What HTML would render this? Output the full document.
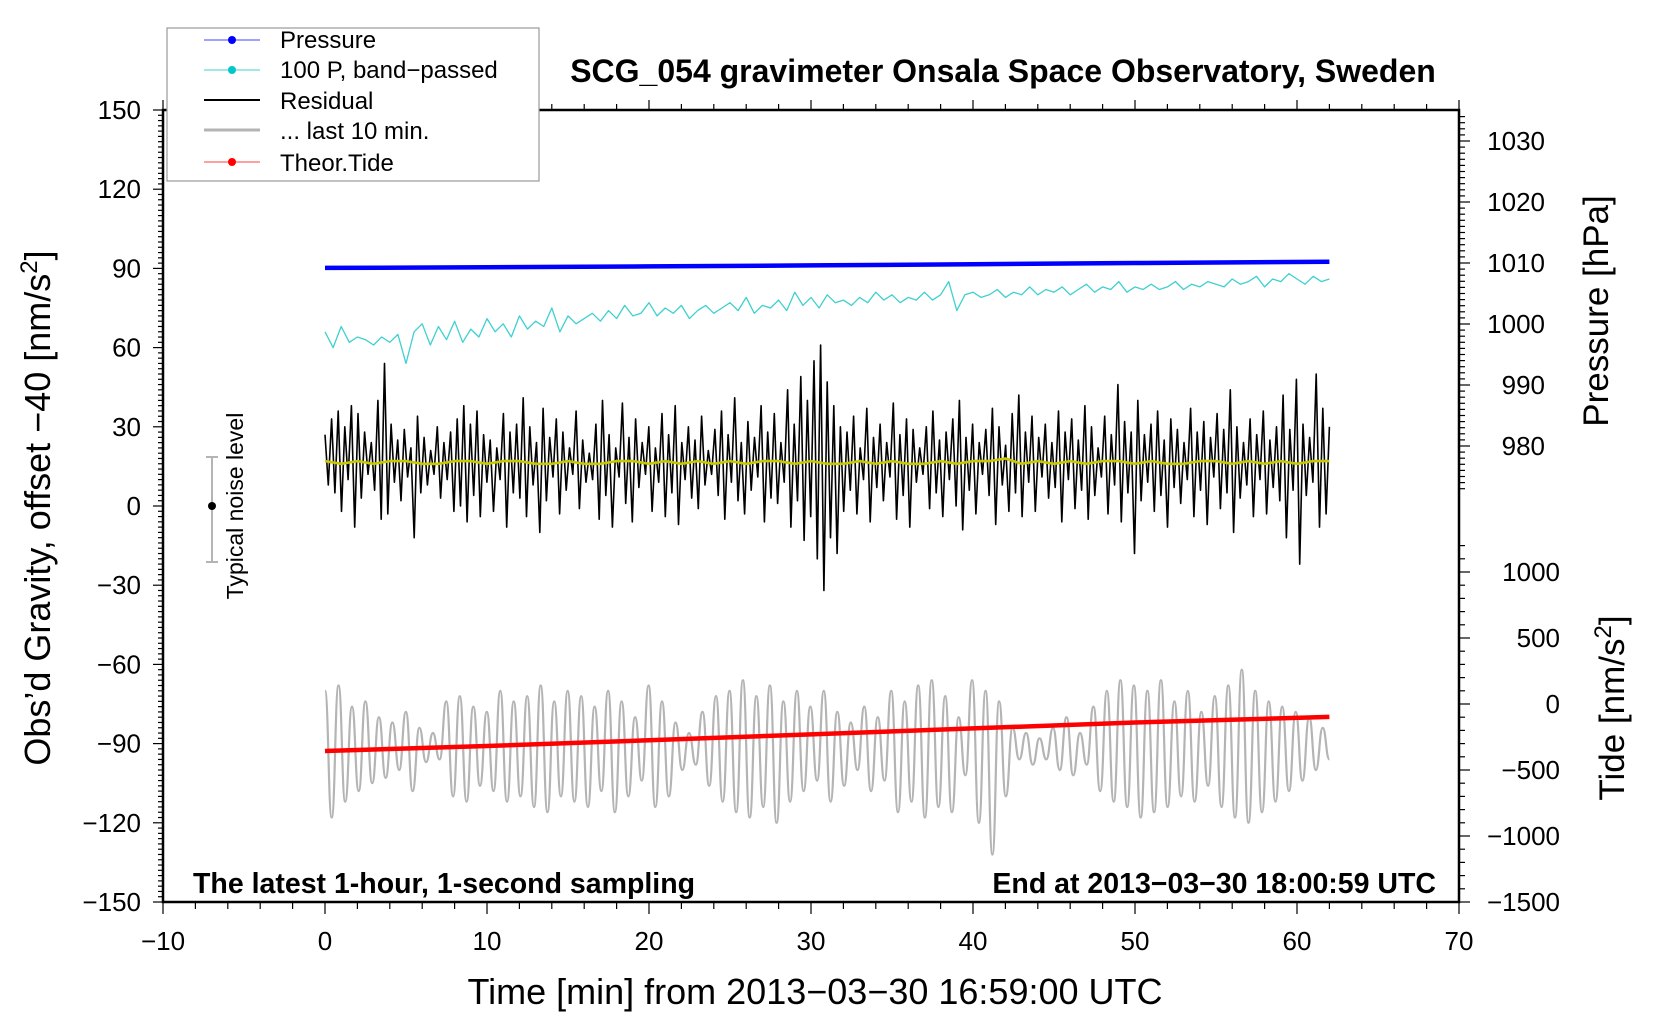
<!DOCTYPE html>
<html><head><meta charset="utf-8"><style>
body{margin:0;background:#fff}
svg{display:block;font-family:"Liberation Sans",sans-serif}
</style></head><body>
<svg id="chart" width="1660" height="1020" viewBox="0 0 1660 1020" xmlns="http://www.w3.org/2000/svg">
<rect width="1660" height="1020" fill="#fff"/>
<g id="axes"></g>
<g id="series"></g>
<text x="1003" y="82" text-anchor="middle" font-size="32" font-weight="bold">SCG_054 gravimeter Onsala Space Observatory, Sweden</text>
<text x="193" y="893" font-size="28.5" font-weight="bold">The latest 1-hour, 1-second sampling</text>
<text x="1436" y="893" text-anchor="end" font-size="28.5" font-weight="bold">End at 2013−03−30 18:00:59 UTC</text>
<text x="815" y="1004" text-anchor="middle" font-size="36">Time [min] from 2013−03−30 16:59:00 UTC</text>
<text transform="translate(50,508) rotate(-90)" text-anchor="middle" font-size="36">Obs’d Gravity, offset −40 [nm/s<tspan dy="-13" font-size="24">2</tspan><tspan dy="13">]</tspan></text>
<text transform="translate(1608,311) rotate(-90)" text-anchor="middle" font-size="35">Pressure [hPa]</text>
<text transform="translate(1624,708) rotate(-90)" text-anchor="middle" font-size="35">Tide [nm/s<tspan dy="-13" font-size="24">2</tspan><tspan dy="13">]</tspan></text>
<g>
<line x1="212" y1="457" x2="212" y2="562" stroke="#b4b4b4" stroke-width="2"/>
<line x1="206" y1="457" x2="218" y2="457" stroke="#b4b4b4" stroke-width="2"/>
<line x1="206" y1="562" x2="218" y2="562" stroke="#b4b4b4" stroke-width="2"/>
<circle cx="212" cy="506" r="4" fill="#000"/>
<text transform="translate(243,506) rotate(-90)" text-anchor="middle" font-size="23">Typical noise level</text>
</g>
<g>
<rect x="167" y="28" width="372" height="153" fill="#fff" stroke="#999" stroke-width="1.2"/>
<g><line x1="204" y1="40" x2="260" y2="40" stroke="#4040ff" stroke-width="1"/><circle cx="232" cy="40" r="4" fill="#0000ff"/><text x="280" y="48" font-size="24">Pressure</text></g>
<g><line x1="204" y1="70" x2="260" y2="70" stroke="#40d0d0" stroke-width="1"/><circle cx="232" cy="70" r="4" fill="#00c8c8"/><text x="280" y="78" font-size="24">100 P, band−passed</text></g>
<g><line x1="204" y1="100" x2="260" y2="100" stroke="#000" stroke-width="2"/><text x="280" y="109" font-size="24">Residual</text></g>
<g><line x1="204" y1="130" x2="260" y2="130" stroke="#b4b4b4" stroke-width="3"/><text x="280" y="139" font-size="24">... last 10 min.</text></g>
<g><line x1="204" y1="162" x2="260" y2="162" stroke="#ff4040" stroke-width="1"/><circle cx="232" cy="162" r="4" fill="#ff0000"/><text x="280" y="171" font-size="24">Theor.Tide</text></g>
</g>
</svg>
<script>
const xTicks=[-10,0,10,20,30,40,50,60,70];
const gTicks=[150,120,90,60,30,0,-30,-60,-90,-120,-150];
const pTicks=[1030,1020,1010,1000,990,980];
const tTicks=[1000,500,0,-500,-1000,-1500];
const pressureT=[0,10,20,30,40,50,62];
const pressureHpa=[1009.2,1009.3,1009.45,1009.6,1009.8,1010.0,1010.2];
const tideT=[0,10,20,30,40,50,62];
const tideNm=[-356,-318,-275,-230,-185,-140,-98];
const residual=[27,8,33,5,36,-2,30,10,38,-8,35,3,28,12,24,6,40,-5,54,-3,31,9,25,2,29,11,22,-12,34,5,26,8,21,12,30,3,24,10,28,-2,33,0,38,-6,31,4,36,-4,27,9,25,-2,22,10,35,-8,28,5,31,3,41,-4,30,8,24,-10,37,2,26,11,33,-3,28,6,22,12,36,-1,25,9,20,10,31,-5,40,4,27,-8,22,11,39,1,26,-6,33,7,24,12,30,-2,22,9,35,-4,27,5,38,-7,24,10,30,3,25,-1,34,8,21,12,29,4,36,-5,27,9,41,2,24,-3,32,6,26,11,38,-6,28,3,35,1,24,9,44,-8,31,2,49,-13,40,-4,55,-20,61,-32,47,-12,38,-18,30,-2,28,6,34,-3,22,10,37,-6,26,7,31,2,24,11,39,-5,27,4,33,-8,29,9,22,12,30,-1,36,5,25,-4,28,10,33,0,40,-9,26,6,31,-3,24,12,29,4,37,-7,30,8,23,-2,35,5,42,-4,28,9,34,-2,26,11,31,3,24,7,36,-6,28,10,33,-1,25,6,38,-5,30,4,22,11,34,-3,27,8,46,-6,32,5,28,-18,40,2,27,9,31,-2,36,4,25,-8,33,7,29,1,24,10,37,-4,28,6,32,-7,26,11,35,-1,29,5,44,-10,30,3,24,8,33,-4,27,10,36,-3,25,7,30,2,42,-12,29,6,48,-22,31,4,26,9,50,-8,37,-3,30];
const residualSmooth=[17,16,17,16,17,17,16,16,17,17,16,17,17,16,16,17,16,16,17,17,16,17,16,17,16,17,16,17,17,16,17,16,16,17,16,17,16,16,17,16,17,17,18,16,17,16,17,16,17,17,16,17,16,16,17,17,16,17,16,17,16,17,17];
const bandPassed=[66,60,68,62,64,63,61,64,62,65,54,66,69,61,68,63,70,62,67,64,71,66,69,64,72,67,70,68,75,66,72,69,71,73,70,74,71,76,72,73,77,72,75,73,76,71,74,76,73,75,77,74,79,73,76,75,78,74,81,76,79,75,80,77,78,76,79,77,81,78,80,77,79,78,81,78,80,85,74,80,81,79,80,82,79,81,80,83,80,82,81,83,80,82,84,81,83,82,85,81,83,82,84,82,83,85,82,84,83,85,84,83,86,84,85,87,83,86,85,88,86,84,87,85,86];
const last10=[-70,-118,-68,-112,-76,-108,-74,-105,-80,-103,-82,-100,-78,-108,-84,-97,-86,-96,-74,-110,-72,-112,-76,-106,-78,-108,-70,-112,-74,-110,-72,-114,-68,-116,-74,-110,-70,-112,-72,-114,-76,-108,-70,-116,-74,-110,-80,-104,-68,-114,-74,-110,-82,-100,-86,-98,-78,-106,-72,-112,-70,-116,-66,-118,-72,-114,-68,-120,-74,-112,-70,-108,-76,-104,-70,-112,-78,-106,-82,-100,-76,-108,-80,-104,-70,-116,-74,-112,-68,-118,-66,-114,-72,-116,-80,-102,-66,-120,-70,-132,-74,-110,-84,-96,-86,-98,-88,-96,-84,-100,-80,-102,-86,-98,-76,-108,-70,-112,-66,-114,-68,-118,-70,-116,-66,-114,-74,-110,-70,-112,-78,-106,-72,-114,-68,-118,-62,-120,-70,-116,-74,-112,-76,-108,-78,-104,-80,-100,-84,-96];
const T_END=62;

const NS='http://www.w3.org/2000/svg';
const X=t=>325+t*16.2;
const YG=v=>110+(150-v)*2.64;
const YP=p=>141+(1030-p)*6.1;
const YT=n=>704-n*0.132;
const axes=document.getElementById('axes');
const ser=document.getElementById('series');
function mk(tag,attrs,parent){const e=document.createElementNS(NS,tag);for(const k in attrs)e.setAttribute(k,attrs[k]);parent.appendChild(e);return e;}
function ln(x1,y1,x2,y2,w,p){return mk('line',{x1,y1,x2,y2,stroke:'#000','stroke-width':w},p);}

const frame=mk('rect',{x:163,y:110,width:1296,height:792,fill:'none',stroke:'#000','stroke-width':2.5},axes);


for(let t=-10;t<=70;t+=2){const maj=t%10===0;ln(X(t),902,X(t),902+(maj?12:7),1.2,axes);ln(X(t),110,X(t),110-(maj?10:6),1.2,axes);}
xTicks.forEach(t=>{const e=mk('text',{x:X(t),y:950,'text-anchor':'middle','font-size':26},axes);e.textContent=String(t).replace('-','−');

});
for(let v=-150;v<=150;v+=2){const maj=v%30===0;ln(163-(maj?10:5),YG(v),163,YG(v),1.2,axes);}
gTicks.forEach(v=>{const e=mk('text',{x:141,y:YG(v)+9,'text-anchor':'end','font-size':26},axes);e.textContent=String(v).replace('-','−');

});
for(let p=973;p<=1034;p++){const maj=p%10===0;ln(1459,YP(p),1459+(maj?11:6),YP(p),1.2,axes);}
pTicks.forEach(p=>{const e=mk('text',{x:1545,y:YP(p)+9,'text-anchor':'end','font-size':26},axes);e.textContent=String(p);

});
for(let n=-1500;n<=1200;n+=100){const maj=n%500===0;ln(1459,YT(n),1459+(maj?11:6),YT(n),1.2,axes);}
tTicks.forEach(n=>{const e=mk('text',{x:1560,y:YT(n)+9,'text-anchor':'end','font-size':26},axes);e.textContent=String(n).replace('-','−');

});

function poly(xs,ys,stroke,w,name){const pts=xs.map((x,i)=>x.toFixed(1)+','+ys[i].toFixed(1)).join(' ');
const e=mk('polyline',{points:pts,fill:'none',stroke:stroke,'stroke-width':w,'stroke-linejoin':'round'},ser);

return e;}
const idxT=(arr)=>arr.map((_,i)=>i*T_END/(arr.length-1));

(function(){const ts=idxT(last10);let d='M'+X(ts[0]).toFixed(1)+','+YG(last10[0]).toFixed(1);
for(let i=1;i<last10.length;i++){const x0=X(ts[i-1]),x1=X(ts[i]),y0=YG(last10[i-1]),y1=YG(last10[i]);const xm=(x0+x1)/2;
d+=' C'+xm.toFixed(1)+','+y0.toFixed(1)+' '+xm.toFixed(1)+','+y1.toFixed(1)+' '+x1.toFixed(1)+','+y1.toFixed(1);}
const e=mk('path',{d:d,fill:'none',stroke:'#b4b4b4','stroke-width':2.2},ser);

})();
poly(tideT.map(X),tideNm.map(YT),'#ff0000',4.5,'theoretical-tide-line');
poly(idxT(residual).map(X),residual.map(YG),'#000',1.6,'residual-line');
poly(idxT(residualSmooth).map(X),residualSmooth.map(YG),'#c8c800',2.6,'residual-smoothed-line');
poly(idxT(bandPassed).map(X),bandPassed.map(YG),'#40d0d0',1.3,'band-passed-pressure-line');
poly(pressureT.map(X),pressureHpa.map(YP),'#0000ff',4.5,'pressure-line');
</script>
</body></html>
